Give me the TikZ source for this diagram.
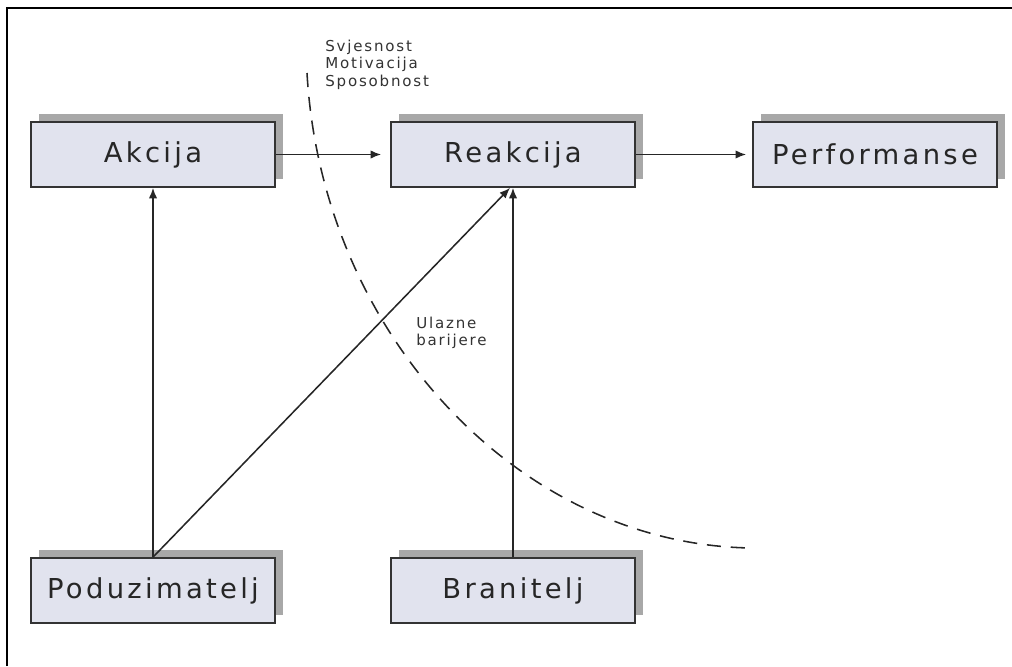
\documentclass[tikz,border=0pt]{standalone}
\usepackage{fontspec}
\setmainfont{DejaVu Sans}
\newfontfamily\boxfont{DejaVu Sans}[LetterSpace=12]
\usetikzlibrary{arrows.meta,shadows}
\definecolor{boxfill}{HTML}{E1E3EE}
\definecolor{boxline}{HTML}{333333}
\definecolor{shade}{HTML}{A8A8A8}
\tikzset{
  stage/.style={draw=boxline, line width=1.2pt, fill=boxfill, minimum width=6.1cm, minimum height=1.625cm,
    inner sep=0pt, text=black!85, font=\boxfont\fontsize{19.5}{22}\selectfont,
    drop shadow={shadow xshift=0.2cm, shadow yshift=0.2cm, fill=shade, opacity=1}},
  link/.style={draw=black!85, line width=1.1pt, -{Latex[length=7.5pt,width=6pt]}},
  note/.style={anchor=north west, inner sep=0pt, align=left, text=black!80, font=\boxfont\fontsize{10.7}{12.2}\selectfont}
}
\begin{document}
\begin{tikzpicture}[x=0.025cm, y=-0.025cm]
  \useasboundingbox (0,0) rectangle (1012,666);
  \draw[line width=1.5pt] (7,666) -- (7,8) -- (1012,8);

  \node[stage] (akcija) at (153,154.5) {Akcija};
  \node[stage] (reakcija) at (513,154.5) {Reakcija};
  \node[stage] (perf) at (875,154.5) {Performanse};
  \node[stage] (poduz) at (153,590.5) {Poduzimatelj};
  \node[stage] (branit) at (513,590.5) {Branitelj};

  \draw[black!85, line width=1.1pt, dash pattern=on 10pt off 7pt]
    (307,73) .. controls (322,335) and (520,545) .. (752,548);

  \node[note] (faktori) at (325,40) {Svjesnost\\Motivacija\\Sposobnost};
  \node[note] (barijere) at (416,317) {Ulazne\\barijere};

  \draw[link, shorten >=6.4pt] (akcija) -- (reakcija);
  \draw[link, shorten >=4.3pt] (reakcija) -- (perf);
  \draw[link] (poduz.north) -- (akcija.south);
  \draw[link] (poduz.north) -- ([xshift=-2.1pt]reakcija.south);
  \draw[link] (branit.north) -- (reakcija.south);
\end{tikzpicture}
\end{document}
